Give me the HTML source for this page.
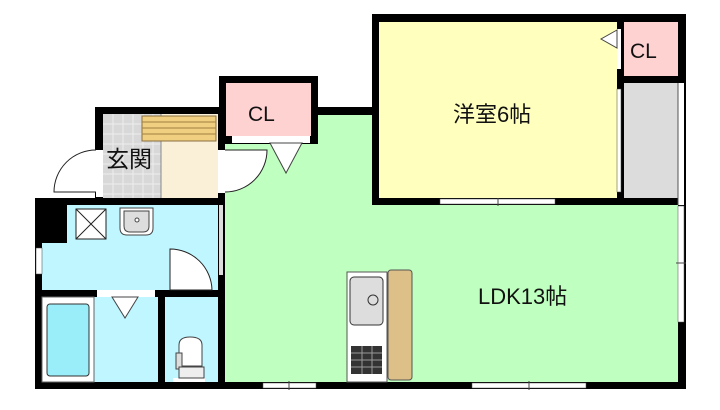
<!DOCTYPE html>
<html><head><meta charset="utf-8"><style>
html,body{margin:0;padding:0;background:#fff;width:720px;height:410px;overflow:hidden}
svg{display:block}
text{font-family:"Liberation Sans","Noto Sans CJK JP",sans-serif;fill:#111}
</style></head><body>
<svg width="720" height="410" viewBox="0 0 720 410" xmlns="http://www.w3.org/2000/svg">
<rect x="218" y="107" width="468" height="282" fill="#000"/>
<rect x="225" y="115" width="453" height="267" fill="#bfffbf"/>
<rect x="372" y="14" width="314" height="191" fill="#000"/>
<rect x="379" y="22" width="238" height="176" fill="#ffffbe"/>
<rect x="624" y="22" width="54" height="54" fill="#ffd2d2"/>
<rect x="624" y="83" width="54" height="115" fill="#dcdcdc"/>
<rect x="678" y="83" width="6" height="122" fill="#fff"/>
<line x1="678" y1="83" x2="678" y2="205" stroke="#555" stroke-width="1"/>
<rect x="617" y="29" width="4" height="40" fill="#fff"/>
<polygon points="617,30 601,39 617,48" fill="#fff" stroke="#444" stroke-width="1"/>
<rect x="617" y="89" width="4" height="103" fill="#fff" stroke="#444" stroke-width="0.5"/>
<rect x="440" y="199" width="115" height="5" fill="#fff" stroke="#555" stroke-width="0.5"/>
<line x1="498" y1="198" x2="498" y2="206" stroke="#444"/>
<rect x="678" y="206" width="6" height="116" fill="#fff" stroke="#555" stroke-width="0.5"/>
<line x1="676" y1="263" x2="686" y2="263" stroke="#444"/>
<rect x="219" y="76" width="99" height="68" fill="#000"/>
<rect x="226" y="83" width="85" height="53" fill="#ffd2d2"/>
<rect x="232" y="136" width="78" height="7" fill="#fff"/>
<polygon points="270,143 302,143 286,173" fill="#fff" stroke="#444" stroke-width="1"/>
<rect x="95" y="107" width="130" height="98" fill="#000"/>
<rect x="103" y="114" width="58" height="84" fill="#d8d8d8"/>
<g stroke="#eee" stroke-width="1">
<line x1="103" y1="124" x2="161" y2="124"/><line x1="103" y1="134" x2="161" y2="134"/><line x1="103" y1="144" x2="161" y2="144"/><line x1="103" y1="154" x2="161" y2="154"/><line x1="103" y1="164" x2="161" y2="164"/><line x1="103" y1="174" x2="161" y2="174"/><line x1="103" y1="184" x2="161" y2="184"/><line x1="103" y1="194" x2="161" y2="194"/>
<line x1="113" y1="114" x2="113" y2="198"/><line x1="123" y1="114" x2="123" y2="198"/><line x1="133" y1="114" x2="133" y2="198"/><line x1="143" y1="114" x2="143" y2="198"/><line x1="153" y1="114" x2="153" y2="198"/>
</g>
<rect x="161" y="114" width="57" height="84" fill="#faf0d8"/>
<line x1="161" y1="114" x2="161" y2="198" stroke="#888"/>
<rect x="142" y="116" width="74" height="25" fill="#f0d080" stroke="#8a7040" stroke-width="1"/>
<g stroke="#a08040"><line x1="142" y1="122" x2="216" y2="122"/><line x1="142" y1="128" x2="216" y2="128"/><line x1="142" y1="134" x2="216" y2="134"/></g>
<rect x="96" y="150" width="7" height="47" fill="#fff"/>
<path d="M96,150 A42,42 0 0 0 54,192 L96,192" fill="#fff" stroke="#222" stroke-width="1"/>
<rect x="218" y="150" width="7" height="43" fill="#fff"/>
<path d="M225,150 L267,150 A42,42 0 0 1 225,192" fill="#fff" stroke="#222" stroke-width="1"/>
<rect x="35" y="198" width="190" height="191" fill="#000"/>
<rect x="67" y="205" width="151" height="38" fill="#bff6ff"/>
<rect x="42" y="243" width="176" height="47" fill="#bff6ff"/>
<rect x="36" y="248" width="6" height="26" fill="#fff" stroke="#444" stroke-width="0.5"/>
<rect x="76" y="209" width="30" height="30" fill="#fff" stroke="#222"/>
<path d="M76,209 L106,239 M106,209 L76,239" stroke="#222"/>
<path d="M120,208 L153,208 L153,228 Q153,235 146,235 L127,235 Q120,235 120,228 Z" fill="#fff" stroke="#444"/>
<path d="M124,211 L149,211 L149,226 Q149,232 143,232 L130,232 Q124,232 124,226 Z" fill="#ddd" stroke="#444"/>
<circle cx="137" cy="220" r="2" fill="#fff" stroke="#444"/>
<path d="M170,290 L170,249 A42,42 0 0 1 212,290 Z" fill="#fff" stroke="#222"/>
<rect x="42" y="297" width="116" height="85" fill="#bff6ff"/>
<rect x="42" y="297" width="52" height="85" fill="#fff" stroke="#666"/>
<rect x="47" y="304" width="42" height="72" rx="3" fill="#99eefa" stroke="#333"/>
<rect x="97" y="290" width="58" height="7" fill="#fff"/>
<polygon points="112,297 138,297 125,318" fill="#fff" stroke="#444"/>
<rect x="165" y="297" width="53" height="85" fill="#bff6ff"/>
<rect x="173" y="378" width="32" height="4" fill="#fff"/>
<path d="M179,366 L179,345 Q179,337 190,337 Q202,337 202,345 L202,366 Z" fill="#fff" stroke="#444"/>
<rect x="176" y="353" width="6" height="16" fill="#ddd" stroke="#444"/>
<rect x="179" y="367" width="25" height="11" fill="#eee" stroke="#444"/>
<rect x="219" y="205" width="4" height="70" fill="#ddd"/>
<rect x="263" y="383" width="53" height="5" fill="#fff" stroke="#555" stroke-width="0.5"/>
<line x1="289" y1="381" x2="289" y2="390" stroke="#444"/>
<rect x="472" y="383" width="114" height="5" fill="#fff" stroke="#555" stroke-width="0.5"/>
<line x1="529" y1="381" x2="529" y2="390" stroke="#444"/>
<rect x="347" y="272" width="40" height="110" fill="#fff" stroke="#555"/>
<rect x="350" y="277" width="33" height="48" rx="4" fill="#ddd" stroke="#333"/>
<circle cx="373" cy="300" r="5" fill="#ddd" stroke="#333"/>
<rect x="351" y="346" width="31" height="28" fill="#333"/>
<g stroke="#999" stroke-width="1"><line x1="351" y1="353" x2="382" y2="353"/><line x1="351" y1="360" x2="382" y2="360"/><line x1="351" y1="367" x2="382" y2="367"/><line x1="362" y1="346" x2="362" y2="374"/><line x1="372" y1="346" x2="372" y2="374"/></g>
<rect x="388" y="270" width="24" height="110" rx="3" fill="#ddc088" stroke="#555"/>
<text x="248" y="121" font-size="21">CL</text>
<text x="630" y="58" font-size="21">CL</text>
<text x="106" y="167" font-size="23">玄関</text>
<text x="453" y="122" font-size="22">洋室6帖</text>
<text x="478" y="304" font-size="22">LDK13帖</text>
</svg>
</body></html>
